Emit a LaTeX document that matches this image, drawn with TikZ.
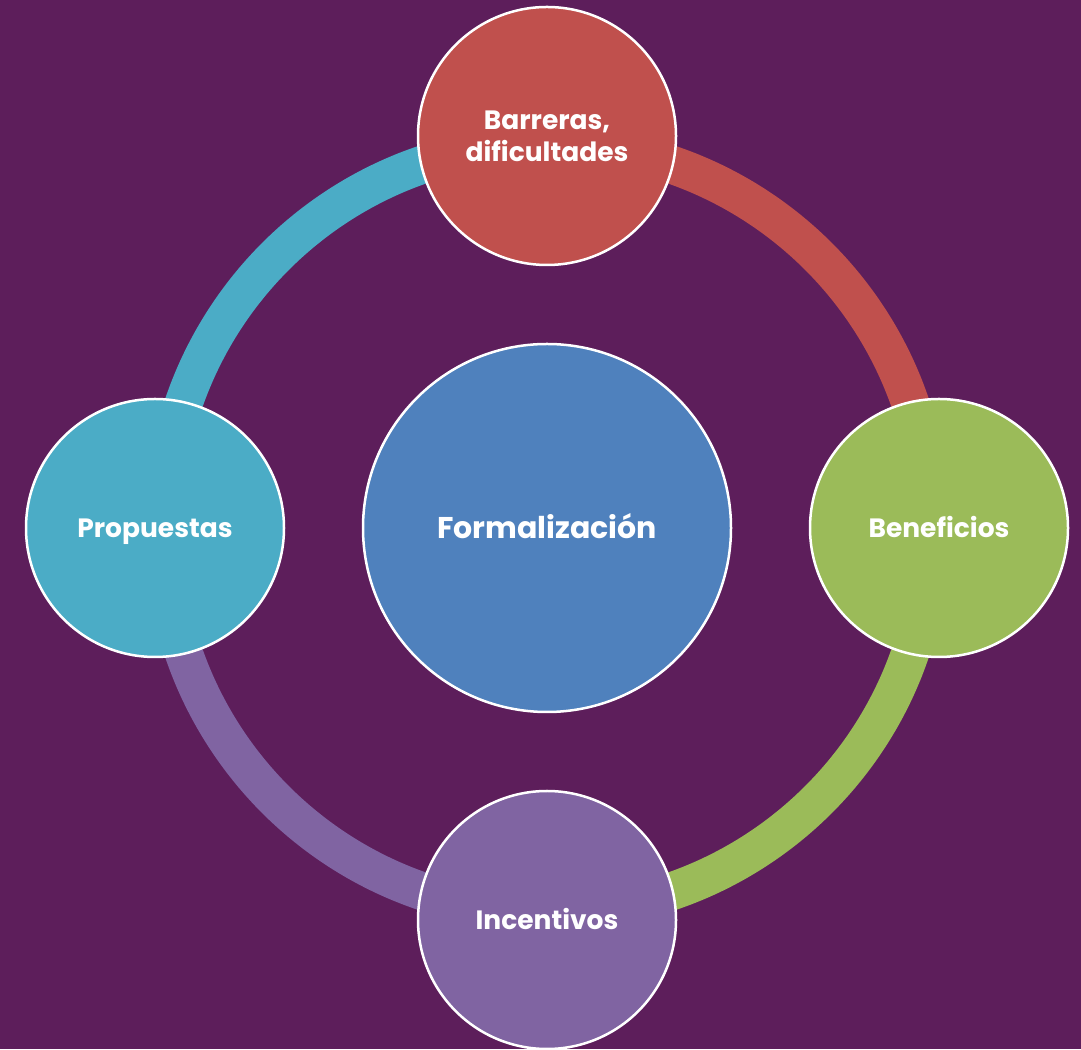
\documentclass[tikz,border=0pt]{standalone}
\usepackage{fontspec}
\setmainfont{Poppins}
\usetikzlibrary{calc}
\definecolor{bgpurple}{HTML}{5D1E5B}
\definecolor{barred}{HTML}{C0504D}
\definecolor{bengreen}{HTML}{9BBB59}
\definecolor{incpurple}{HTML}{8064A2}
\definecolor{procyan}{HTML}{4BACC6}
\definecolor{forblue}{HTML}{4F81BD}
\tikzset{
  topic/.style={circle,draw=white,line width=2.5pt,minimum size=258pt,inner sep=0pt,
    text=white,align=center,font=\bfseries\fontsize{26.5}{32}\selectfont},
  oneline/.style={text height=18.5pt,text depth=0pt},
  band/.style={line width=38pt}
}

\begin{document}
\begin{tikzpicture}[x=1pt,y=1pt]
      \fill[bgpurple] (0,0) rectangle (1081,1049);
      \useasboundingbox (0,0) rectangle (1081,1049);
      \coordinate (mid) at (547,521);
      % ring behind the circles
      \draw[band,barred]    ($(mid)+(90:384)$)  arc[start angle=90,end angle=0,radius=384];
      \draw[band,bengreen]  ($(mid)+(0:384)$)   arc[start angle=0,end angle=-90,radius=384];
      \draw[band,incpurple] ($(mid)+(-90:384)$) arc[start angle=-90,end angle=-180,radius=384];
      \draw[band,procyan]   ($(mid)+(180:384)$) arc[start angle=180,end angle=90,radius=384];
      \node[topic,fill=forblue,minimum size=368pt,text height=21pt,text depth=0pt,
            font=\bfseries\fontsize{30}{36}\selectfont] (form) at (mid) {Formalización};
      \node[topic,fill=barred]            (barr) at (547,913) {Barreras,\\dificultades};
      \node[topic,oneline,fill=bengreen]  (bene) at (939,521) {Beneficios};
      \node[topic,oneline,fill=incpurple] (ince) at (547,129) {Incentivos};
      \node[topic,oneline,fill=procyan]   (prop) at (155,521) {Propuestas};
    \end{tikzpicture}
\end{document}
